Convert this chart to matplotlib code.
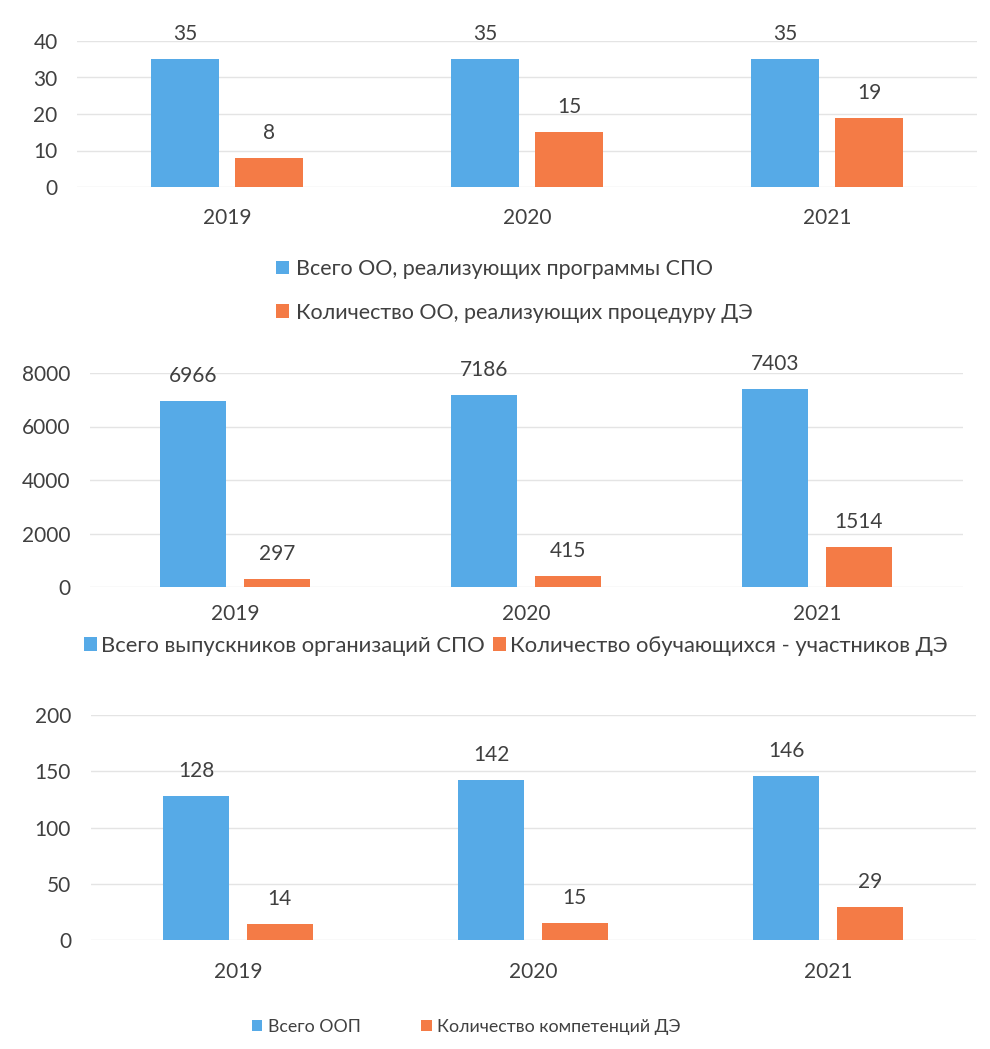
import matplotlib
matplotlib.use('Agg')
import matplotlib.pyplot as plt
import numpy as np

# ---- data ----
years = ['2019', '2020', '2021']
oo_total = [35, 35, 35]
oo_de = [8, 15, 19]
grads_total = [6966, 7186, 7403]
grads_de = [297, 415, 1514]
oop_total = [128, 142, 146]
comp_de = [14, 15, 29]

labels1 = ['Всего ОО, реализующих программы СПО', 'Количество ОО, реализующих процедуру ДЭ']
labels2 = ['Всего выпускников организаций СПО', 'Количество обучающихся - участников ДЭ']
labels3 = ['Всего ООП', 'Количество компетенций ДЭ']
yticks1 = [0, 10, 20, 30, 40]
yticks2 = [0, 2000, 4000, 6000, 8000]
yticks3 = [0, 50, 100, 150, 200]

# ---- style ----
W, H = 990, 1049
BLUE = '#56AAE7'
ORANGE = '#F47B46'
TEXT = '#404040'
GRID = '#E4E4E4'

plt.rcParams['font.family'] = ['Lato', 'DejaVu Sans']

fig = plt.figure(figsize=(W / 100, H / 100), dpi=100)


def px_axes(x0, y0, x1, y1):
    return fig.add_axes([x0 / W, 1 - y1 / H, (x1 - x0) / W, (y1 - y0) / H])


def panel(box, s1, s2, yticks, width, off, fs, year_pad):
    ax = px_axes(*box)
    x = np.arange(len(years))
    b1 = ax.bar(x - off, s1, width, color=BLUE, zorder=3)
    b2 = ax.bar(x + off, s2, width, color=ORANGE, zorder=3)
    for bars, vals in ((b1, s1), (b2, s2)):
        for r, v in zip(bars, vals):
            ax.annotate(str(v), (r.get_x() + r.get_width() / 2, v),
                        xytext=(0, 18), textcoords='offset points',
                        ha='center', va='center', fontsize=fs, color=TEXT)
    ax.set_xlim(-0.5, len(years) - 0.5)
    ax.set_ylim(yticks[0], yticks[-1])
    ax.set_yticks(yticks)
    ax.set_xticks(x)
    ax.set_xticklabels(years)
    ax.tick_params(axis='y', length=0, pad=14, labelsize=fs, labelcolor=TEXT)
    ax.tick_params(axis='x', length=0, pad=year_pad, labelsize=fs, labelcolor=TEXT)
    ax.grid(axis='y', color=GRID, linewidth=1, zorder=0)
    for s in ax.spines.values():
        s.set_visible(False)
    ax.set_facecolor('none')
    return ax, b1, b2


ax1, a1, a2 = panel((77, 41, 977, 187), oo_total, oo_de, yticks1, 0.224, 0.14, 15, 15)
ax2, c1, c2 = panel((89.5, 373, 962.5, 587), grads_total, grads_de, yticks2, 0.227, 0.144, 15, 12)
ax3, d1, d2 = panel((90.5, 715, 975.5, 940), oop_total, comp_de, yticks3, 0.224, 0.142, 15, 16)

leg_kw = dict(frameon=False, handlelength=0.6, handleheight=0.6, labelcolor=TEXT)
fig.legend([a1, a2], labels1, loc='center left', bbox_to_anchor=(257 / W, 1 - 291 / H),
           ncol=1, fontsize=15.5, labelspacing=1.1, handletextpad=0.3, **leg_kw)
fig.legend([c1, c2], labels2, loc='center', bbox_to_anchor=(516 / W, 1 - 646 / H),
           ncol=2, fontsize=15.8, columnspacing=0.35, handletextpad=0.2, **leg_kw)
fig.legend([d1, d2], labels3, loc='center', bbox_to_anchor=(466 / W, 1 - 1027 / H),
           ncol=2, fontsize=12.8, columnspacing=3.4, handletextpad=0.3, **leg_kw)

fig.savefig('out.png', dpi=100, facecolor='white')
